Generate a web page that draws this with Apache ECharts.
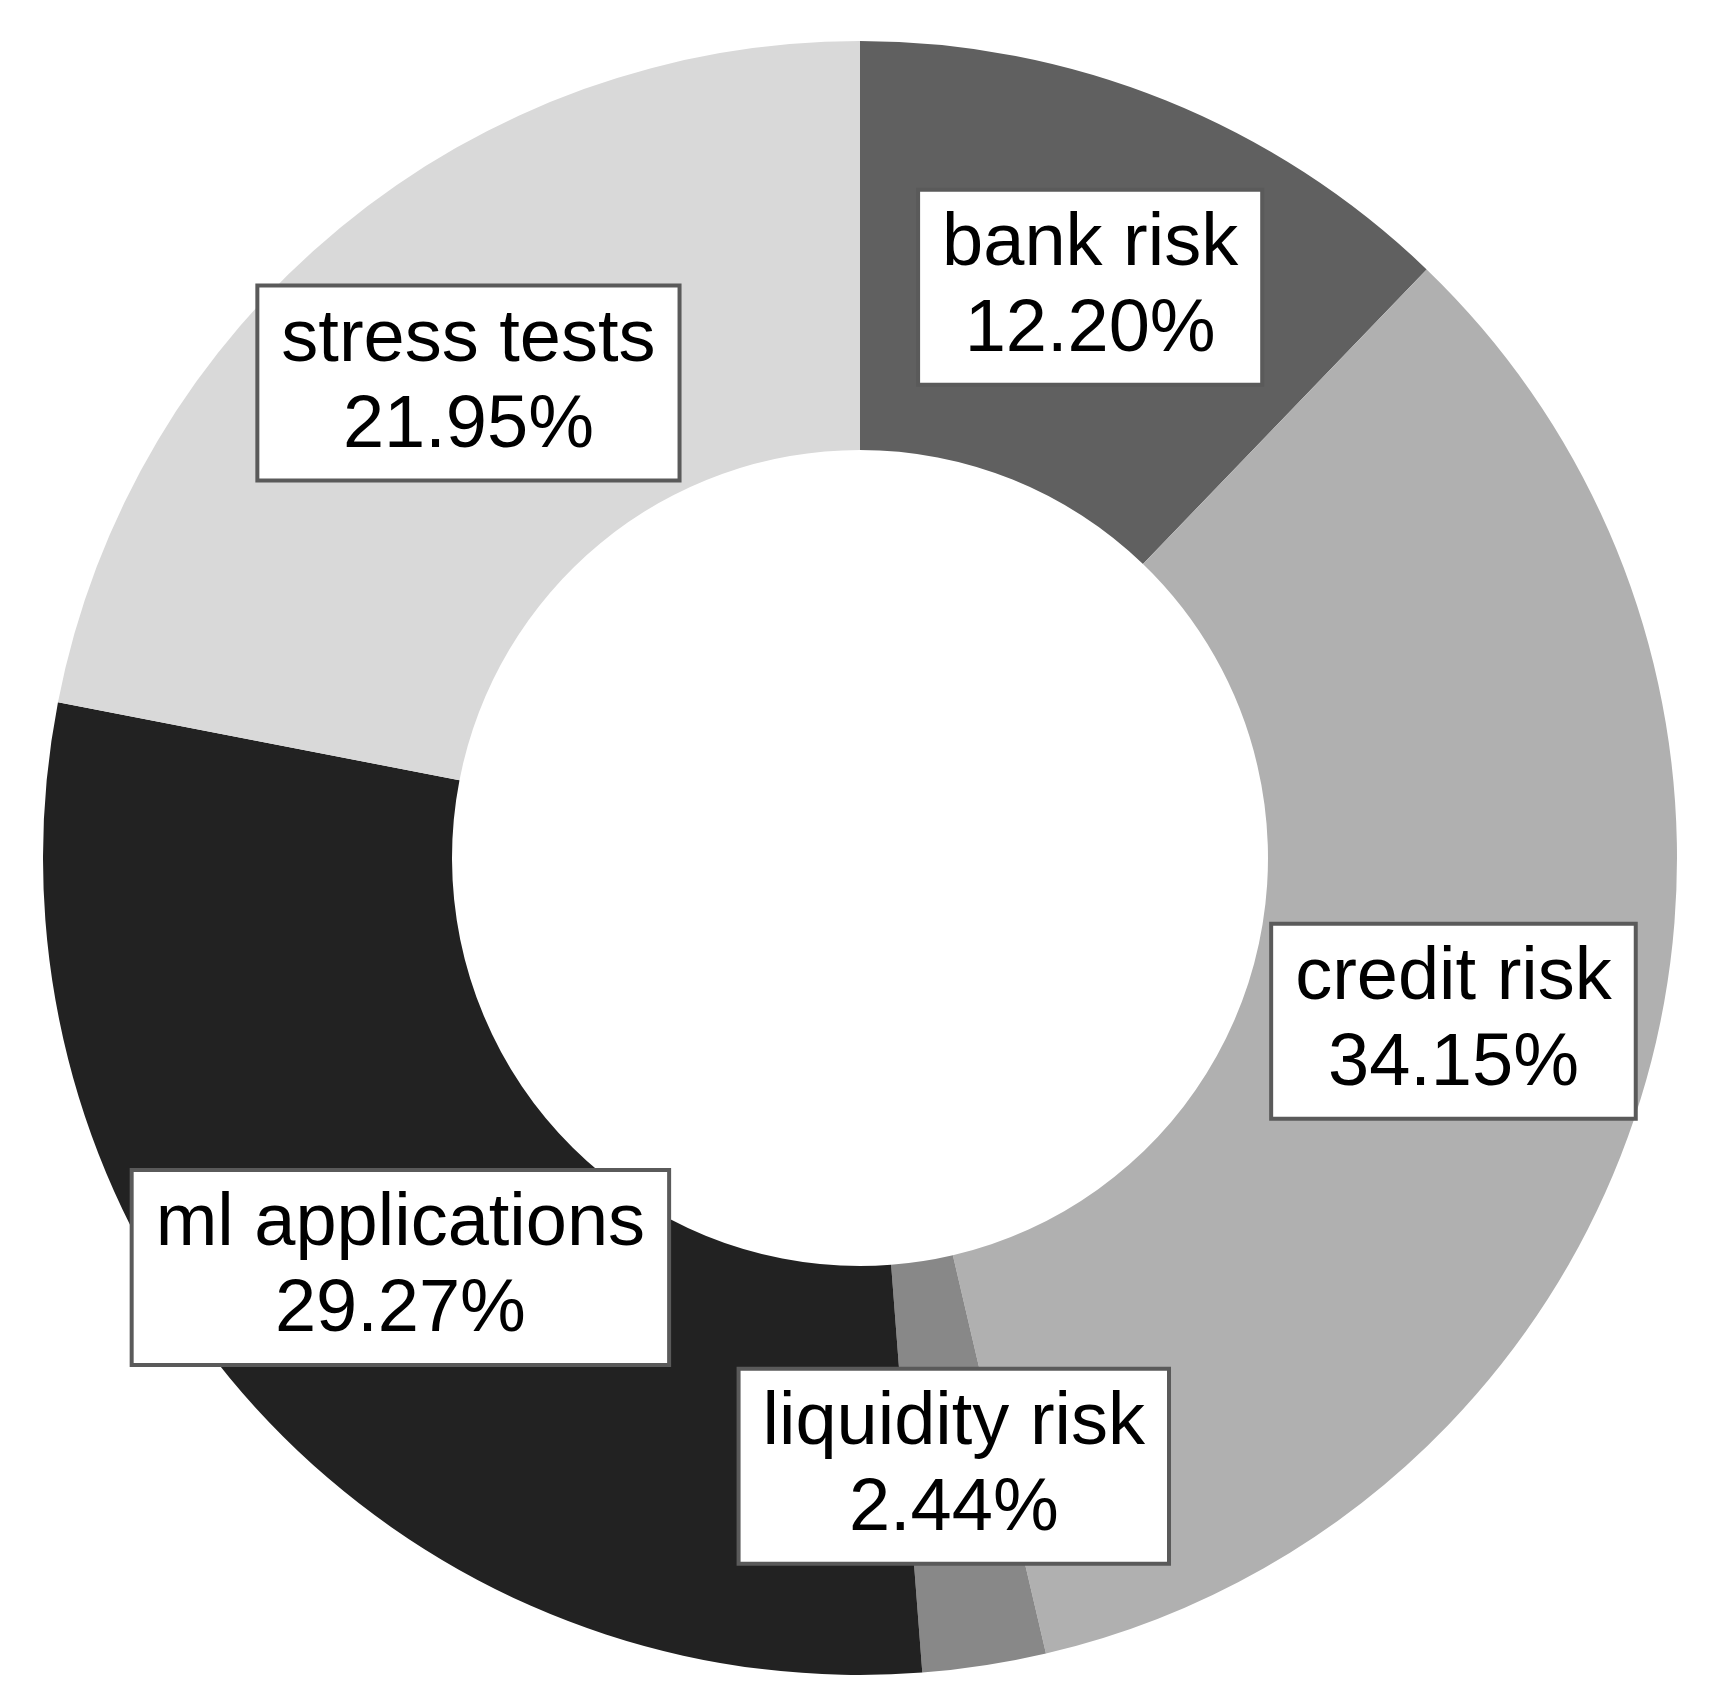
<!DOCTYPE html>
<html>
<head>
<meta charset="utf-8">
<script src="https://cdn.jsdelivr.net/npm/echarts@6/dist/echarts.min.js"></script>
<style>
  html, body { margin: 0; padding: 0; background: #ffffff; }
  #chart { width: 1721px; height: 1700px; }
</style>
</head>
<body>
<div id="chart"></div>
<script>
const categories = ['bank risk', 'credit risk', 'liquidity risk', 'ml applications', 'stress tests'];
const shares = [12.20, 34.15, 2.44, 29.27, 21.95];
const colors = ['#606060', '#b0b0b0', '#888888', '#222222', '#d9d9d9'];

const chart = echarts.init(document.getElementById('chart'), null, { renderer: 'canvas' });
chart.setOption({
  backgroundColor: '#ffffff',
  animation: false,
  series: [{
    type: 'pie',
    center: [860, 858],
    radius: [408, 817],
    startAngle: 90,
    clockwise: true,
    avoidLabelOverlap: false,
    data: categories.map((c, i) => ({ name: c, value: shares[i], itemStyle: { color: colors[i] } })),
    itemStyle: { borderWidth: 0 },
    label: {
      show: true,
      position: 'inside',
      formatter: p => p.name + '\n' + p.value.toFixed(2) + '%',
      fontFamily: 'Liberation Sans, Arial, sans-serif',
      fontSize: 74,
      lineHeight: 86,
      color: '#000000',
      align: 'center',
      backgroundColor: '#ffffff',
      borderColor: '#5a5a5a',
      borderWidth: 4,
      padding: [13, 22, 6, 22]
    },
    labelLine: { show: false },
    emphasis: { disabled: true }
  }]
});
</script>
</body>
</html>
